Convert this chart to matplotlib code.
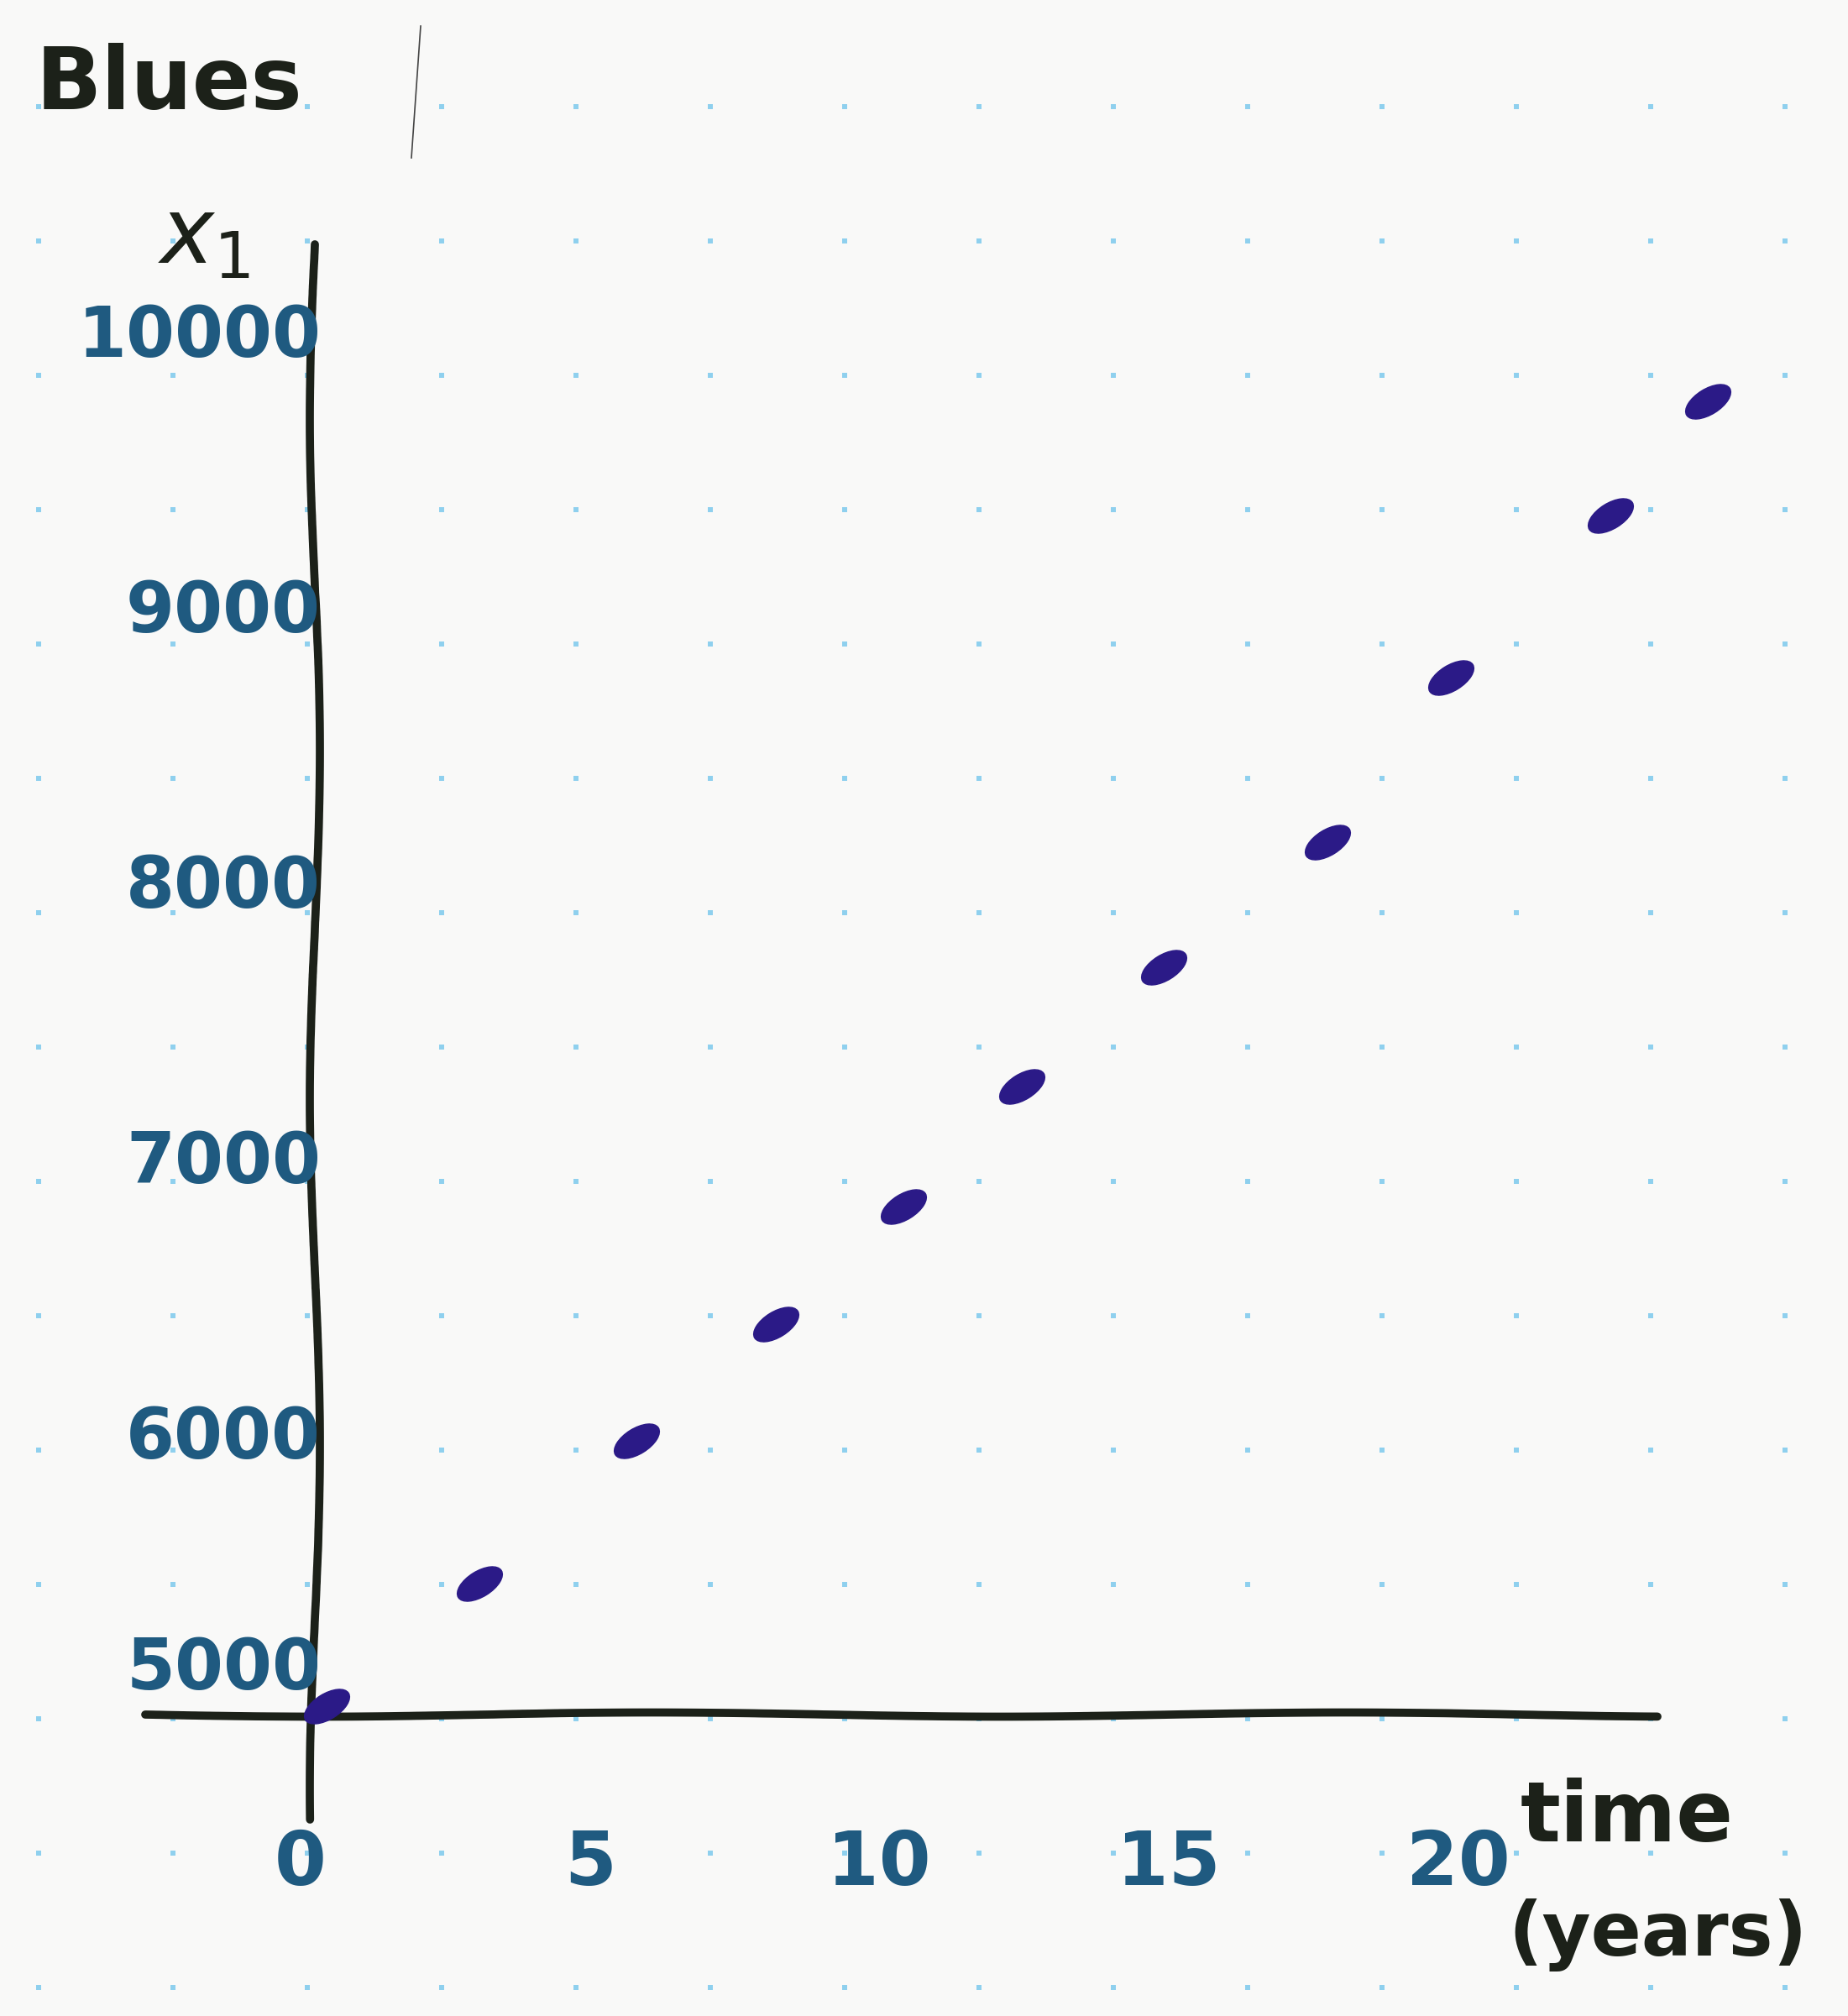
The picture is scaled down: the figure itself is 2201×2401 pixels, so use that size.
import numpy as np
import matplotlib
matplotlib.use("Agg")
import matplotlib.pyplot as plt
from matplotlib.path import Path
from matplotlib.transforms import Affine2D

# --- values -----------------------------------------------------------------
years  = [0.2, 2.84, 5.56, 7.96, 10.16, 12.22, 14.67, 17.49, 19.62, 22.38, 24.07]
x1_val = [5030, 5476, 5994, 6415, 6844, 7278, 7712, 8165, 8763, 9351, 9767]

xticks = [0, 5, 10, 15, 20]
yticks = [5000, 6000, 7000, 8000, 9000, 10000]

title   = "Blues"
ylabel  = "$x_1$"
xlabel1 = "time"
xlabel2 = "(years)"

# colours
PAPER = "#f9f9f8"
DOTS  = "#8fd0ee"
INK   = "#1c2119"
TICK  = "#1f5a80"
PTS   = "#2b1a87"

W, H = 2201, 2401
plt.rcParams["font.family"] = ["DejaVu Sans"]
plt.rcParams["mathtext.fontset"] = "dejavusans"
fig = plt.figure(figsize=(W / 100, H / 100), dpi=100)
fig.patch.set_facecolor(PAPER)

# ---------- dotted paper, pixel coordinates ---------------------------------
bg = fig.add_axes([0, 0, 1, 1])
bg.set_xlim(0, W)
bg.set_ylim(H, 0)
bg.axis("off")
gx, gy = np.meshgrid(np.arange(46, W, 160), np.arange(127, H, 160))
bg.scatter(gx.ravel(), gy.ravel(), s=14, marker="s", color=DOTS, linewidths=0)
bg.plot([501, 490], [31, 188], color="#444444", lw=1.2)  # stray pen stroke

bg.text(43, 130, title, ha="left", va="baseline", fontsize=74,
        fontweight="bold", color=INK)
bg.text(243, 283, ylabel, ha="center", va="center", fontsize=78, color=INK)
bg.text(1938, 2165, xlabel1, ha="center", va="center", fontsize=72,
        fontweight="bold", color=INK)
bg.text(1975, 2305, xlabel2, ha="center", va="center", fontsize=64,
        fontweight="bold", color=INK)

# ---------- data axes --------------------------------------------------------
ax = fig.add_axes([0, 0, 1, 1])
ax.patch.set_alpha(0)
ax.set_xlim(-5.445, 26.49)
ax.set_ylim(3905, 11223)
ax.axis("off")

# hand-drawn axis lines
yl, = ax.plot([0, 0], [10336, 4617], color=INK, lw=7,
              solid_capstyle="round", clip_on=False)
yl.set_sketch_params(scale=6, length=900, randomness=2)
xl, = ax.plot([-2.93, 23.2], [5000, 5000], color=INK, lw=7,
              solid_capstyle="round", clip_on=False)
xl.set_sketch_params(scale=2.5, length=900, randomness=2)

# tick labels
for v in yticks:
    va = "bottom" if v == yticks[0] else "center"
    yy = v + 40 if v == yticks[0] else v
    ax.text(0.1, yy, str(v), ha="right", va=va, fontsize=60,
            fontweight="bold", color=TICK)
for v in xticks:
    ax.text(v - 0.25, 4454, str(v), ha="center", va="center", fontsize=64,
            fontweight="bold", color=TICK)

# tilted oval blobs for the points
blob = Affine2D().scale(1, 0.5).rotate_deg(32).transform_path(Path.unit_circle())
ax.plot(years, x1_val, ls="none", marker=blob, ms=40, color=PTS, mec=PTS)

fig.savefig("out.png", dpi=100, facecolor=PAPER)
